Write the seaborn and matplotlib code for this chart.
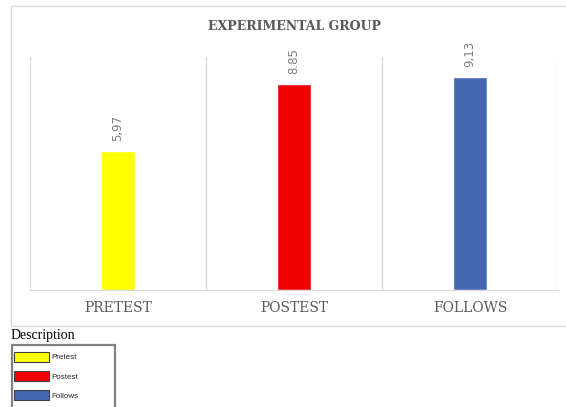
import matplotlib
matplotlib.use("Agg")
import matplotlib.pyplot as plt
import matplotlib.patches as mpatches
import seaborn as sns
import pandas as pd

# data
stages = ["PRETEST", "POSTEST", "FOLLOWS"]
scores = [5.97, 8.85, 9.13]
value_labels = ["5,97", "8.85", "9,13"]
legend_names = ["Pretest", "Postest", "Follows"]
bar_colors = ["#FFFF00", "#EE0000", "#4666B0"]

df = pd.DataFrame({"stage": stages, "score": scores})

sns.set_style("white")
W, H = 566, 407
fig = plt.figure(figsize=(W / 100, H / 100), dpi=100)
ax = fig.add_axes([30 / W, 1 - 290 / H, (558 - 30) / W, (290 - 57) / H])

sns.barplot(data=df, x="stage", y="score", hue="stage", palette=bar_colors,
            width=0.19, legend=False, ax=ax, saturation=1)

ax.set_ylim(0, 10)
ax.set_xlim(-0.5, 2.5)
ax.set_yticks([])
ax.set_xlabel("")
ax.set_ylabel("")
for s in ["top", "right", "left"]:
    ax.spines[s].set_visible(False)
ax.spines["bottom"].set_color("#D9D9D9")
for xb in [-0.5, 0.5, 1.5, 2.5]:
    ax.axvline(xb, color="#D9D9D9", lw=1, zorder=0)

ax.tick_params(axis="x", length=0, pad=8)
ax.set_xticks(range(len(stages)))
ax.set_xticklabels(stages, fontfamily="DejaVu Serif", fontsize=10, color="#595959")

for i, (v, lab) in enumerate(zip(scores, value_labels)):
    ax.text(i, v + 0.42, lab, rotation=90, ha="center", va="bottom",
            fontsize=8.5, color="#7F7F7F", fontfamily="DejaVu Sans")

fig.text(294 / W, 1 - 27 / H, "EXPERIMENTAL GROUP", ha="center", va="center",
         fontfamily="DejaVu Serif", fontweight="bold", fontsize=9, color="#595959")

# chart outer frame
fig.patches.append(mpatches.Rectangle((11 / W, 1 - 326 / H), 600 / W, 320 / H,
                                      transform=fig.transFigure, fill=False,
                                      edgecolor="#D9D9D9", lw=1))

fig.text(11 / W, 1 - 335 / H, "Description", ha="left", va="center",
         fontfamily="Liberation Serif", fontsize=10, color="black")

# legend box (cut off at bottom like the reference)
fig.patches.append(mpatches.Rectangle((12 / W, -10 / H), 103 / W, (407 - 345 + 10) / H,
                                      transform=fig.transFigure, fill=False,
                                      edgecolor="#808080", lw=1.6))
handles = [mpatches.Patch(facecolor=c, edgecolor="#404040", lw=0.8, label=n)
           for c, n in zip(bar_colors, legend_names)]
fig.legend(handles=handles, loc="upper left", bbox_to_anchor=(14 / W, 1 - 352 / H),
           frameon=False, prop={"family": "Liberation Sans", "size": 5.8},
           handlelength=4.4, handleheight=1.45, labelspacing=1.2, handletextpad=0.2,
           borderpad=0, borderaxespad=0)

fig.savefig("out.png", dpi=100, facecolor="white")
